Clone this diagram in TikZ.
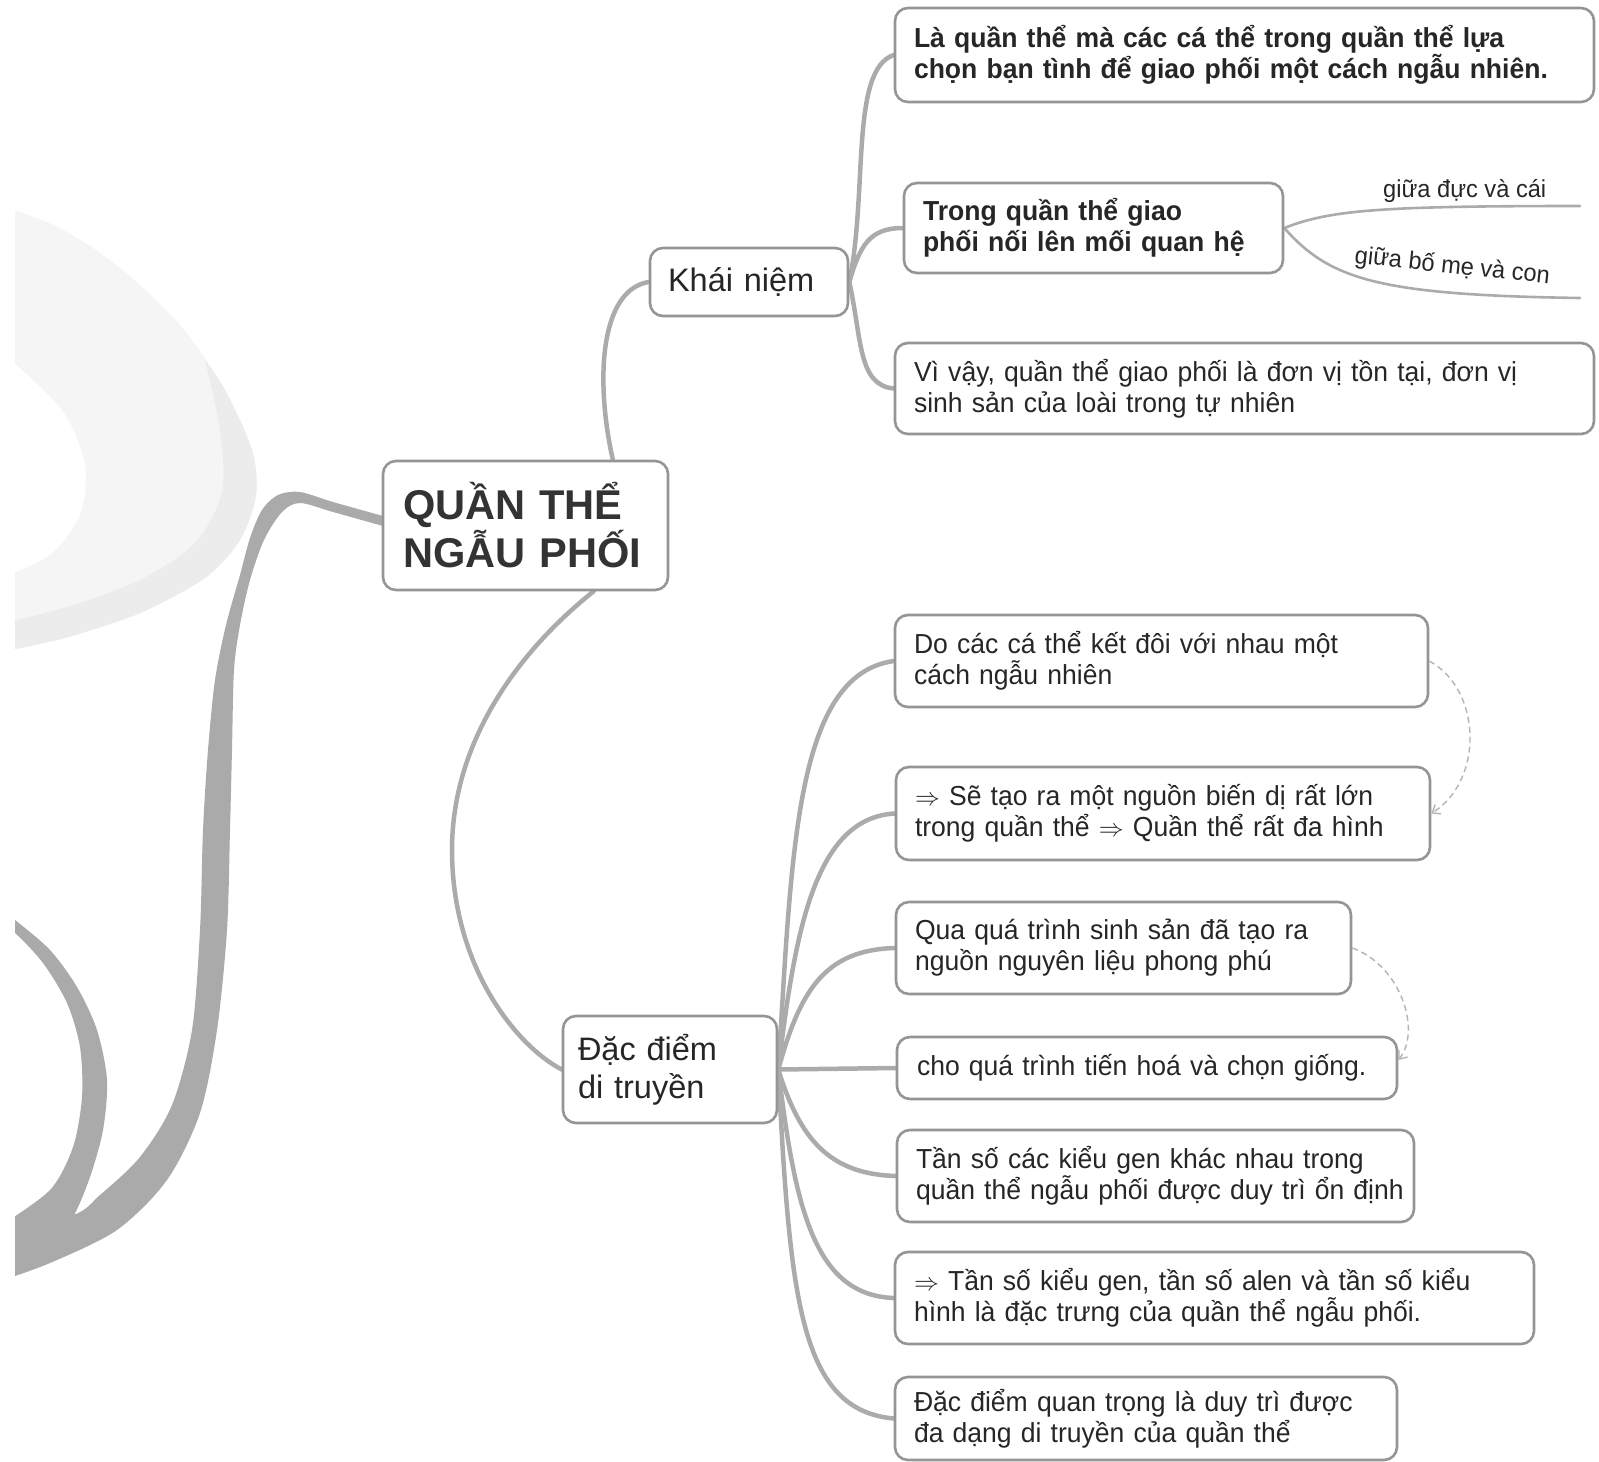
\documentclass[tikz,border=0pt]{standalone}
\usepackage{fontspec}
\setmainfont{Liberation Sans}[FakeStretch=0.965]
\newfontfamily\plainsans{Liberation Sans}
\usetikzlibrary{arrows.meta}
\pgfdeclarelayer{paper}
\pgfdeclarelayer{back}
\pgfsetlayers{paper,back,main}

\definecolor{ink}{HTML}{262626}
\definecolor{rootink}{HTML}{333333}
\definecolor{boxline}{HTML}{959595}
\definecolor{branchc}{HTML}{ABABAB}
\definecolor{linkc}{HTML}{B4B4B4}
\definecolor{swoosh}{HTML}{AAAAAA}
\definecolor{pale}{HTML}{F5F5F5}
\definecolor{rim}{HTML}{ECECEC}

\newcommand\txtbody{\fontsize{27.5}{31}\selectfont}
\newcommand\txtlabel{\fontsize{24.5}{28}\selectfont}
\newcommand\txtmid{\plainsans\fontsize{32.5}{38}\selectfont}
\newcommand\txtroot{\plainsans\fontsize{41.6}{48}\selectfont\bfseries}
\newcommand\ml[2]{\mbox{#1}\\\mbox{#2}}

\begin{document}
\begin{tikzpicture}[x=1pt,y=-1pt,
  box/.style={draw=boxline, line width=2.6pt, rounded corners=13pt, fill=white,
    align=left, inner xsep=19pt, inner ysep=0pt, text=ink, font=\txtbody},
  branch/.style={draw=branchc, line width=4.5pt, line cap=round},
  twig/.style={draw=branchc, line width=2.6pt, line cap=round},
  link/.style={draw=linkc, line width=1.4pt, dash pattern=on 6pt off 4pt,
    -{Straight Barb[length=7pt,width=11pt]}},
  lbl/.style={inner sep=0pt, text=ink, font=\txtlabel},
]
\begin{pgfonlayer}{paper}
  \fill[white] (0,0) rectangle (1599,1462);
\end{pgfonlayer}
\useasboundingbox (0,0) rectangle (1599,1462);

% decorative swooshes on the left
\begin{scope}
  \clip (15,0) rectangle (1599,1462);
  % pale ring with a slightly darker rim
  \fill[pale] plot[smooth] coordinates {(0,205) (60,228) (120,268) (180,325) (225,390) (252,450) (256,495) (240,540) (205,578) (140,613) (65,638) (0,652)}
    -- plot[smooth] coordinates {(0,578) (50,555) (80,515) (85,465) (62,410) (0,350)} -- cycle;
  \fill[rim] plot[smooth] coordinates {(205,360) (225,390) (252,450) (256,495) (240,540) (205,578) (140,613) (65,638) (0,652)}
    -- plot[smooth] coordinates {(0,624) (70,606) (140,580) (195,543) (222,492) (220,430) (205,360)} -- cycle;
  % thick J stroke from the central topic
  \fill[swoosh] plot[smooth] coordinates {(383,516) (333,502) (300,492) (278,495) (262,510) (250,538) (240,575) (226,625) (215,680) (208,750) (203,830) (200,930) (192,1030) (172,1105) (140,1157) (100,1195) (73,1215) (0,1226)}
    -- plot[smooth] coordinates {(0,1281) (50,1263) (117,1230) (167,1180) (200,1113) (217,1030) (227,930) (230,830) (232,750) (234,670) (240,625) (250,580) (264,540) (282,512) (300,503) (333,512) (383,526)} -- cycle;
  % crescent joining the bottom of the J
  \fill[swoosh] plot[smooth] coordinates {(0,910) (15,920) (50,950) (77,987) (97,1030) (107,1080) (103,1130) (90,1177) (73,1217) (55,1235)}
    -- plot[smooth] coordinates {(0,1226) (50,1190) (73,1147) (82,1097) (80,1047) (67,1003) (43,963) (15,933) (0,925)} -- cycle;
\end{scope}

% central topic and main branches
\node[box, font=\txtroot, text=rootink, text width=245pt, inner xsep=20pt, minimum height=129pt] (root) at (525.5,525.5) {\ml{QUẦN THỂ}{NGẪU PHỐI}};
\node[box, font=\txtmid, text width=162pt, inner xsep=18pt, minimum height=68pt] (kn) at (749,282) {Khái niệm};
\node[box, font=\txtmid, text width=184pt, inner xsep=15pt, minimum height=107pt] (dd) at (670,1069.5) {\ml{Đặc điểm}{di truyền}};

% concept boxes
\node[box, font=\txtbody\bfseries, text width=661pt, minimum height=94pt] (b1) at (1244.5,55)
  {\ml{Là quần thể mà các cá thể trong quần thể lựa}{chọn bạn tình để giao phối một cách ngẫu nhiên.}};
\node[box, font=\txtbody\bfseries, text width=341pt, minimum height=90pt] (b2) at (1093.5,228)
  {\ml{Trong quần thể giao}{phối nối lên mối quan hệ}};
\node[box, text width=661pt, minimum height=91pt] (b3) at (1244.5,388.5)
  {\ml{Vì vậy, quần thể giao phối là đơn vị tồn tại, đơn vị}{sinh sản của loài trong tự nhiên}};

% genetic feature boxes
\node[box, text width=495pt, minimum height=92pt] (ca) at (1161.5,661)
  {\ml{Do các cá thể kết đôi với nhau một}{cách ngẫu nhiên}};
\node[box, text width=496pt, minimum height=93pt] (cb) at (1163,813.5)
  {\ml{$\Rightarrow$ Sẽ tạo ra một nguồn biến dị rất lớn}{trong quần thể $\Rightarrow$ Quần thể rất đa hình}};
\node[box, text width=417pt, minimum height=92pt] (cc) at (1123.5,948)
  {\ml{Qua quá trình sinh sản đã tạo ra}{nguồn nguyên liệu phong phú}};
\node[box, text width=460pt, inner xsep=20pt, minimum height=62pt] (cd) at (1147,1068)
  {\mbox{cho quá trình tiến hoá và chọn giống.}};
\node[box, text width=479pt, minimum height=92pt] (ce) at (1155.5,1176)
  {\ml{Tần số các kiểu gen khác nhau trong}{quần thể ngẫu phối được duy trì ổn định}};
\node[box, text width=601pt, minimum height=92pt] (cf) at (1214.5,1298)
  {\ml{$\Rightarrow$ Tần số kiểu gen, tần số alen và tần số kiểu}{hình là đặc trưng của quần thể ngẫu phối.}};
\node[box, text width=464pt, minimum height=83pt] (cg) at (1146,1418.5)
  {\ml{Đặc điểm quan trọng là duy trì được}{đa dạng di truyền của quần thể}};

% relation labels
\coordinate (m1) at (1580,206);
\coordinate (m2) at (1580,298);
\node[lbl, anchor=base west] (l1) at (1383,197) {giữa đực và cái};
\node[lbl, anchor=base west, rotate=-6] (l2) at (1354,263) {giữa bố mẹ và con};

\begin{pgfonlayer}{back}
  \draw[branch] (root.37) .. controls (595,380) and (600,290) .. (kn.west);
  \draw[branch] (root.-44) .. controls (520,650) and (452,740) .. (452,850)
                .. controls (452,965) and (515,1045) .. (dd.west);

  \draw[branch] (kn.east) .. controls (868,190) and (850,70) .. (b1.west);
  \draw[branch] (kn.east) .. controls (860,245) and (870,228) .. (b2.west);
  \draw[branch] (kn.east) .. controls (862,340) and (858,385) .. (b3.west);

  \draw[twig] (b2.east) .. controls (1330,210) and (1380,206) .. (m1);
  \draw[twig] (b2.east) .. controls (1330,280) and (1380,295) .. (m2);

  \draw[branch] (dd.east) .. controls (792,850) and (795,675) .. (ca.west);
  \draw[branch] (dd.east) .. controls (795,930) and (815,818) .. (cb.west);
  \draw[branch] (dd.east) .. controls (800,990) and (825,950) .. (cc.west);
  \draw[branch] (dd.east) -- (cd.west);
  \draw[branch] (dd.east) .. controls (800,1140) and (830,1174) .. (ce.west);
  \draw[branch] (dd.east) .. controls (795,1210) and (815,1295) .. (cf.west);
  \draw[branch] (dd.east) .. controls (790,1300) and (800,1410) .. (cg.west);
\end{pgfonlayer}

% dashed cross links
\draw[link] (ca.east) .. controls (1482,690) and (1484,780) .. (cb.east);
\draw[link] (cc.east) .. controls (1400,965) and (1422,1030) .. ([yshift=8pt]cd.east);
\end{tikzpicture}
\end{document}
